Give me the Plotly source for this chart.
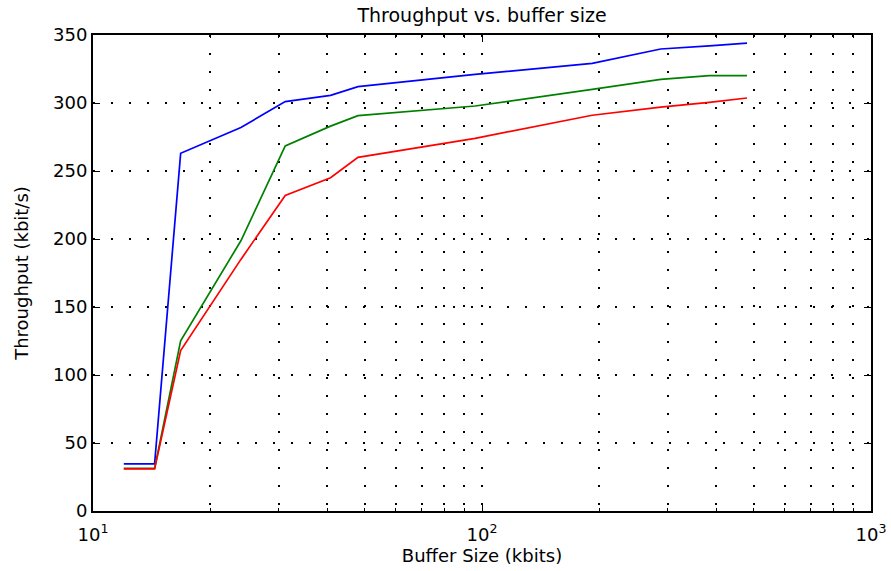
import plotly.graph_objects as go

buffer_kbits = [12, 14.4, 16.8, 24, 31.2, 40.8, 48, 96, 192, 288, 384, 480]
blue_vals = [34.6, 34.6, 263, 282, 301, 305.6, 312, 321, 329.2, 339.7, 342, 344]
green_vals = [31.4, 31.4, 125.2, 198.7, 268.4, 283, 290.7, 297.8, 310, 317.4, 320.1, 320.1]
red_vals = [31, 31, 118, 185, 232, 245, 260, 274, 291, 297, 300.5, 303.7]

x_major = [10, 100, 1000]
x_major_text = ["10<sup>1</sup>", "10<sup>2</sup>", "10<sup>3</sup>"]
x_minor = [20, 30, 40, 50, 60, 70, 80, 90, 200, 300, 400, 500, 600, 700, 800, 900]
y_ticks = [0, 50, 100, 150, 200, 250, 300, 350]

FONT = "DejaVu Sans, Arial, sans-serif"

fig = go.Figure()
for vals, col in [(blue_vals, "#0000FF"), (green_vals, "#008000"), (red_vals, "#FF0000")]:
    fig.add_trace(go.Scatter(x=buffer_kbits, y=vals, mode="lines",
                             line=dict(color=col, width=1.7), showlegend=False))

grid_dash = "2px,16px"
fig.update_layout(
    width=891, height=571,
    margin=dict(l=93, r=20, t=35, b=60, autoexpand=False),
    paper_bgcolor="white", plot_bgcolor="white",
    font=dict(family=FONT, size=16, color="black"),
    title=dict(text="Throughput vs. buffer size", x=0.541, xanchor="center",
               y=1 - 15 / 571, yanchor="middle", yref="container", automargin=False,
               font=dict(family=FONT, size=19, color="black")),
)
fig.update_xaxes(
    type="log", range=[1, 3], automargin=False,
    tickvals=x_major, ticktext=x_major_text,
    ticks="inside", ticklen=7, tickwidth=1.2, tickcolor="black",
    showline=True, linecolor="black", linewidth=2, mirror="ticks",
    showgrid=True, gridcolor="black", gridwidth=1.6, griddash=grid_dash,
    minor=dict(tickvals=x_minor, ticks="inside", ticklen=3, tickcolor="black",
               tickwidth=1.2, showgrid=True, gridcolor="black", gridwidth=1.6,
               griddash=grid_dash),
    tickfont=dict(family=FONT, size=18), ticklabelstandoff=6,
    title=dict(text="Buffer Size (kbits)", font=dict(family=FONT, size=18), standoff=0),
    zeroline=False,
)
fig.update_yaxes(
    range=[0, 350], tickvals=y_ticks, automargin=False,
    ticks="inside", ticklen=7, tickwidth=1.2, tickcolor="black",
    showline=True, linecolor="black", linewidth=2, mirror="ticks",
    showgrid=True, gridcolor="black", gridwidth=1.6, griddash=grid_dash,
    tickfont=dict(family=FONT, size=18), ticklabelstandoff=0,
    title=dict(text="Throughput (kbit/s)", font=dict(family=FONT, size=18), standoff=20),
    zeroline=False,
)

fig.write_html("out.html", config={"displayModeBar": False},
               post_script="document.body.style.margin='0';")
